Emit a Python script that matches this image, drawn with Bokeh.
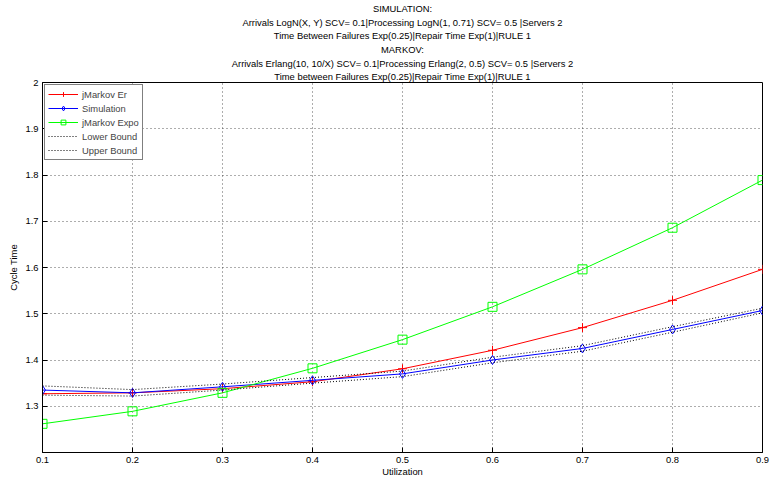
from bokeh.plotting import figure
from bokeh.models import Title, FixedTicker, Legend, LegendItem, Range1d
from bokeh.embed import file_html
from bokeh.resources import INLINE

utilization = [0.1, 0.2, 0.3, 0.4, 0.5, 0.6, 0.7, 0.8, 0.9]
jmarkov_er = [1.327, 1.329, 1.338, 1.353, 1.381, 1.421, 1.470, 1.529, 1.596]
simulation = [1.335, 1.329, 1.342, 1.356, 1.370, 1.400, 1.425, 1.466, 1.507]
jmarkov_expo = [1.262, 1.289, 1.329, 1.382, 1.444, 1.515, 1.596, 1.686, 1.789]
lower_bound = [1.324, 1.322, 1.335, 1.350, 1.364, 1.394, 1.419, 1.460, 1.502]
upper_bound = [1.344, 1.336, 1.348, 1.362, 1.376, 1.406, 1.431, 1.472, 1.512]

x_ticks = [0.1, 0.2, 0.3, 0.4, 0.5, 0.6, 0.7, 0.8, 0.9]
x_tick_labels = ["0.1", "0.2", "0.3", "0.4", "0.5", "0.6", "0.7", "0.8", "0.9"]
y_ticks = [1.3, 1.4, 1.5, 1.6, 1.7, 1.8, 1.9, 2.0]
y_tick_labels = ["1.3", "1.4", "1.5", "1.6", "1.7", "1.8", "1.9", "2"]

title_lines = [
    "SIMULATION:",
    "Arrivals LogN(X, Y) SCV= 0.1|Processing LogN(1, 0.71) SCV= 0.5 |Servers 2",
    "Time Between Failures Exp(0.25)|Repair Time Exp(1)|RULE 1",
    "MARKOV:",
    "Arrivals Erlang(10, 10/X) SCV= 0.1|Processing Erlang(2, 0.5) SCV= 0.5 |Servers 2",
    "Time between Failures Exp(0.25)|Repair Time Exp(1)|RULE 1",
]
title_standoffs = [1, 0, 1, 1, 0, 1]

FONT = "Liberation Sans"
FS = "9.4px"

p = figure(width=771, height=481, output_backend="svg", toolbar_location=None,
           x_range=Range1d(0.1, 0.9), y_range=Range1d(1.2, 2.0),
           min_border_left=42, min_border_right=9, min_border_bottom=29,
           min_border_top=0)
p.title = None
p.background_fill_color = "white"
p.border_fill_color = "white"
p.outline_line_color = "black"
p.outline_line_width = 1

for line, so in reversed(list(zip(title_lines, title_standoffs))):
    p.add_layout(Title(text=line, align="center", text_font=FONT,
                       text_font_size=FS, text_font_style="normal",
                       text_color="black", standoff=so, offset=0), "above")

p.xaxis.ticker = FixedTicker(ticks=x_ticks)
p.yaxis.ticker = FixedTicker(ticks=y_ticks)
p.xaxis.major_label_overrides = dict(zip(x_ticks, x_tick_labels))
p.yaxis.major_label_overrides = dict(zip(y_ticks, y_tick_labels))
for ax in (p.xaxis, p.yaxis):
    ax.major_tick_in = 5
    ax.major_tick_out = 0
    ax.minor_tick_in = 0
    ax.minor_tick_out = 0
    ax.axis_line_color = "black"
    ax.major_tick_line_color = "black"
    ax.major_label_text_font = FONT
    ax.major_label_text_font_size = FS
    ax.major_label_text_color = "black"
    ax.axis_label_text_font = FONT
    ax.axis_label_text_font_size = FS
    ax.axis_label_text_font_style = "normal"
    ax.axis_label_text_color = "black"
p.xaxis.axis_label = "Utilization"
p.yaxis.axis_label = "Cycle Time"
p.xaxis.major_label_standoff = 4
p.xaxis.axis_label_standoff = 0
p.yaxis.major_label_standoff = 4
p.yaxis.axis_label_standoff = 3

p.xgrid.ticker = FixedTicker(ticks=x_ticks)
p.ygrid.ticker = FixedTicker(ticks=y_ticks)
for g in (p.xgrid, p.ygrid):
    g.grid_line_color = "#333333"
    g.grid_line_dash = "1 3"
    g.grid_line_width = 1
    g.grid_line_alpha = 0.8

r_er = p.line(utilization, jmarkov_er, line_color="#ff0000", line_width=1)
m_er = p.scatter(utilization, jmarkov_er, marker="cross", size=9,
                 line_color="#ff0000", fill_color=None)
r_sim = p.line(utilization, simulation, line_color="#0000ff", line_width=1)
m_sim = p.scatter(utilization, simulation, marker="diamond", size=9,
                  line_color="#0000ff", fill_color=None)
r_exp = p.line(utilization, jmarkov_expo, line_color="#00ff00", line_width=1)
m_exp = p.scatter(utilization, jmarkov_expo, marker="square", size=9,
                  line_color="#00ff00", fill_color=None)
r_lo = p.line(utilization, lower_bound, line_color="#000000", line_width=1,
              line_dash="1 2")
r_up = p.line(utilization, upper_bound, line_color="#000000", line_width=1,
              line_dash="1 2")

legend = Legend(items=[
    LegendItem(label="jMarkov Er", renderers=[r_er, m_er]),
    LegendItem(label="Simulation", renderers=[r_sim, m_sim]),
    LegendItem(label="jMarkov Expo", renderers=[r_exp, m_exp]),
    LegendItem(label="Lower Bound", renderers=[r_lo]),
    LegendItem(label="Upper Bound", renderers=[r_up]),
], location="top_left")
legend.label_text_font = FONT
legend.label_text_font_size = FS
legend.label_height = 12
legend.glyph_height = 12
legend.glyph_width = 30
legend.spacing = 2
legend.padding = 3
legend.margin = 2
legend.label_standoff = 4
legend.border_line_color = "black"
legend.border_line_width = 1
legend.background_fill_color = "white"
legend.background_fill_alpha = 1
p.add_layout(legend, "center")

open("out.html", "w").write(file_html(p, INLINE))
